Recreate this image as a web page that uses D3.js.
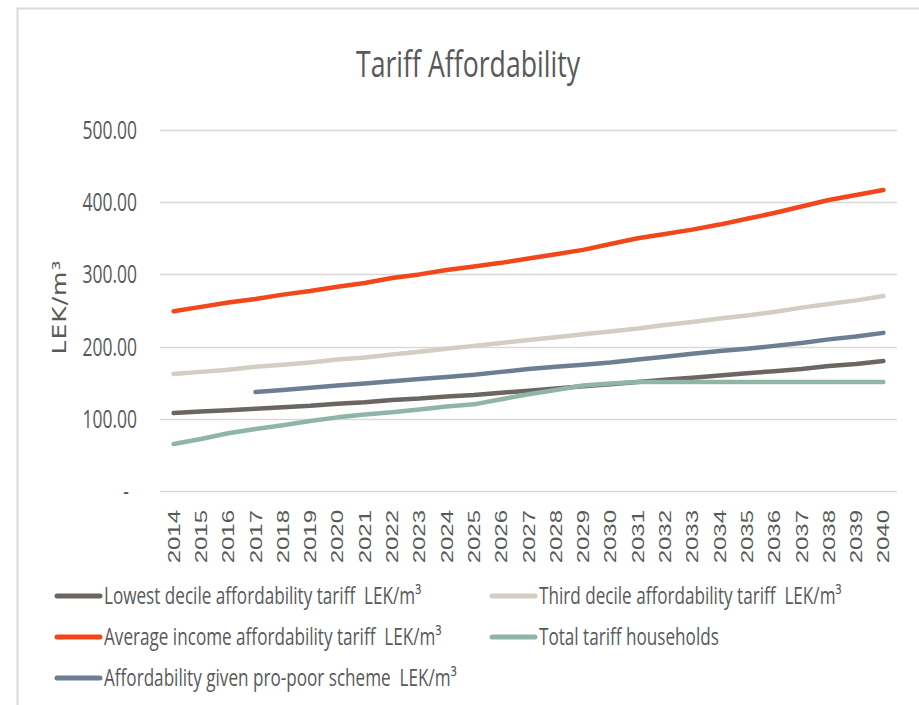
<!DOCTYPE html>
<html>
<head>
<meta charset="utf-8">
<script src="https://cdn.jsdelivr.net/npm/d3@7"></script>
<style>
  html, body { margin: 0; padding: 0; background: #ffffff; }
  svg { display: block; }
  text { fill: #595959; white-space: pre; }
</style>
</head>
<body>
<svg class="tariff-chart" width="919" height="705"></svg>
<script>
// years on the category axis
var years = d3.range(2014, 2041).map(String);

// LEK/m3 values, one per year (null = no value)
var lowestDecile = [108, 110, 112, 114, 116, 118, 121, 123, 126, 128, 131, 133, 136, 139,
  142, 145, 148, 151, 154, 157, 160, 163, 166, 169, 173, 176, 180];
var thirdDecile = [162, 165, 168, 172, 175, 178, 182, 185, 189, 193, 197, 201, 205, 209,
  213, 217, 221, 225, 230, 234, 239, 243, 248, 254, 259, 264, 270];
var averageIncome = [249, 255, 261, 266, 272, 277, 283, 288, 295, 300, 306, 311, 316, 322,
  328, 334, 342, 350, 356, 362, 369, 377, 385, 394, 403, 410, 417];
var totalTariff = [65, 72, 80, 86, 91, 97, 102, 106, 109, 113, 117, 120, 127, 134,
  140, 146, 149, 151, 151, 151, 151, 151, 151, 151, 151, 151, 151];
var proPoor = [null, null, null, 137, 140, 143, 146, 149, 152, 155, 158, 161, 165, 169,
  172, 175, 178, 182, 186, 190, 194, 197, 201, 205, 210, 214, 219];

var yTicks = [0, 100, 200, 300, 400, 500];

var seriesNames = [
  'Lowest decile affordability tariff  LEK/m\u00B3',
  'Third decile affordability tariff  LEK/m\u00B3',
  'Average income affordability tariff  LEK/m\u00B3',
  'Total tariff households',
  'Affordability given pro-poor scheme  LEK/m\u00B3'
];
var seriesColors = ['#6b6661', '#d3cdc4', '#f2461b', '#8fb5a8', '#6d7e94'];
var seriesValues = [lowestDecile, thirdDecile, averageIncome, totalTariff, proPoor];

main();

function main() {
  var svg = d3.select('svg.tariff-chart');
  // the reference is squeezed sideways, so every text is narrowed the same way
  var squeeze = 0.7;
  var legendSqueeze = 0.745;
  var font = '"Open Sans", "Liberation Sans", sans-serif';

  var plot = { left: 160, right: 897, top: 130, bottom: 491 };

  // outer frame of the chart area
  svg.append('path')
    .attr('d', 'M17.5,706 L17.5,8.5 L919,8.5')
    .attr('fill', 'none')
    .attr('stroke', '#d9d9d9')
    .attr('stroke-width', 2);

  var x = d3.scaleBand()
    .domain(years)
    .range([plot.left, plot.right]);

  var y = d3.scaleLinear()
    .domain([0, 500])
    .range([plot.bottom, plot.top]);

  // horizontal gridlines
  svg.append('g')
    .selectAll('line')
    .data(yTicks)
    .enter().append('line')
    .attr('x1', plot.left)
    .attr('x2', plot.right)
    .attr('y1', function(d) { return Math.round(y(d)) + 0.5; })
    .attr('y2', function(d) { return Math.round(y(d)) + 0.5; })
    .attr('stroke', '#d9d9d9')
    .attr('stroke-width', 1.5);

  // y tick labels, "-" stands for zero like in the accounting format
  svg.append('g')
    .selectAll('text')
    .data(yTicks)
    .enter().append('text')
    .attr('transform', function(d) {
      return 'translate(' + (d === 0 ? 129 : 137) + ',' + y(d) + ') scale(' + squeeze + ',1)';
    })
    .attr('text-anchor', 'end')
    .attr('dy', '0.36em')
    .style('font-family', font)
    .style('font-size', '25px')
    .text(function(d) { return d === 0 ? '-' : d3.format('.2f')(d); });

  // y axis title
  svg.append('text')
    .attr('transform', 'translate(59,307) scale(0.75,1) rotate(-90)')
    .attr('text-anchor', 'middle')
    .attr('dy', '0.36em')
    .style('font-family', '"DejaVu Sans", sans-serif')
    .style('font-size', '25px')
    .style('letter-spacing', '1px')
    .text('LEK/m\u00B3');

  // x tick labels, rotated
  svg.append('g')
    .selectAll('text')
    .data(years)
    .enter().append('text')
    .attr('transform', function(d) {
      return 'translate(' + (x(d) + x.bandwidth() / 2) + ',510) scale(' + squeeze + ',1) rotate(-90)';
    })
    .attr('text-anchor', 'end')
    .attr('dy', '0.36em')
    .style('font-family', '"Liberation Sans", Arial, sans-serif')
    .style('font-size', '24px')
    .text(function(d) { return d; });

  // series lines
  var line = d3.line()
    .defined(function(d) { return d.value !== null; })
    .x(function(d) { return x(d.year) + x.bandwidth() / 2; })
    .y(function(d) { return y(d.value); });

  svg.append('g')
    .selectAll('path')
    .data(seriesValues.map(function(values, idx) {
      return {
        color: seriesColors[idx],
        points: values.map(function(v, i) { return { year: years[i], value: v }; })
      };
    }))
    .enter().append('path')
    .attr('d', function(d) { return line(d.points); })
    .attr('fill', 'none')
    .attr('stroke', function(d) { return d.color; })
    .attr('stroke-width', 4.5)
    .attr('stroke-linecap', 'round')
    .attr('stroke-linejoin', 'round');

  // title
  svg.append('text')
    .attr('transform', 'translate(468,77) scale(0.74,1)')
    .attr('text-anchor', 'middle')
    .style('font-family', font)
    .style('font-size', '36px')
    .text('Tariff Affordability');

  // legend, two columns filled row by row
  var legendSpots = [
    { x: 56, y: 596 }, { x: 491, y: 596 },
    { x: 56, y: 637 }, { x: 491, y: 637 },
    { x: 56, y: 678 }
  ];

  var legend = svg.append('g')
    .selectAll('g')
    .data(seriesNames)
    .enter().append('g')
    .attr('transform', function(d, idx) {
      return 'translate(' + legendSpots[idx].x + ',' + legendSpots[idx].y + ')';
    });

  legend.append('line')
    .attr('x1', 1)
    .attr('x2', 44)
    .attr('stroke', function(d, idx) { return seriesColors[idx]; })
    .attr('stroke-width', 5)
    .attr('stroke-linecap', 'round');

  legend.append('text')
    .attr('transform', 'translate(48,0) scale(' + legendSqueeze + ',1)')
    .attr('dy', '0.36em')
    .style('font-family', font)
    .style('font-size', '23px')
    .text(function(d) { return d; });
}
</script>
</body>
</html>
